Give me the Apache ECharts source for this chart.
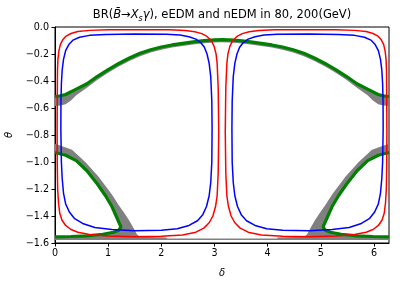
<!DOCTYPE html>
<html><head><meta charset="utf-8">
<script src="https://cdn.jsdelivr.net/npm/echarts@6/dist/echarts.min.js"></script>
<style>html,body{margin:0;padding:0;background:#fff}#c{width:400px;height:284px}</style>
</head><body><div id="c"></div>
<script>
// axis ticks
const xTicks = [0, 1, 2, 3, 4, 5, 6];
const yTicks = [-1.6, -1.4, -1.2, -1.0, -0.8, -0.6, -0.4, -0.2, 0.0];

// red contour, left loop  [delta, theta]
const redLeft = [[1.6,-0.02],[2.15,-0.021],[2.45,-0.026],[2.63,-0.035],[2.76,-0.049],[2.86,-0.07],[2.94,-0.1],[2.995,-0.145],[3.03,-0.2],[3.05,-0.27],[3.07,-0.45],[3.08,-0.78],[3.07,-1.08],[3.05,-1.25],[3.02,-1.33],[2.97,-1.40],[2.9,-1.45],[2.8,-1.49],[2.65,-1.52],[2.4,-1.54],[2.0,-1.55],[1.5,-1.553],[1.0,-1.548],[0.65,-1.537],[0.43,-1.52],[0.3,-1.5],[0.2,-1.47],[0.13,-1.43],[0.09,-1.38],[0.065,-1.3],[0.05,-1.2],[0.042,-1.0],[0.04,-0.78],[0.043,-0.5],[0.047,-0.32],[0.055,-0.24],[0.072,-0.18],[0.1,-0.13],[0.145,-0.095],[0.21,-0.067],[0.3,-0.048],[0.43,-0.034],[0.65,-0.025],[1.0,-0.021],[1.6,-0.02]];
// red contour, right loop
const redRight = [[4.683,-0.02],[4.133,-0.021],[3.833,-0.026],[3.653,-0.035],[3.523,-0.049],[3.423,-0.07],[3.343,-0.1],[3.288,-0.145],[3.253,-0.2],[3.233,-0.27],[3.213,-0.45],[3.203,-0.78],[3.213,-1.08],[3.233,-1.25],[3.263,-1.33],[3.313,-1.40],[3.383,-1.45],[3.483,-1.49],[3.633,-1.52],[3.883,-1.54],[4.283,-1.55],[4.783,-1.553],[5.283,-1.548],[5.633,-1.537],[5.853,-1.52],[5.983,-1.5],[6.083,-1.47],[6.153,-1.43],[6.193,-1.38],[6.218,-1.3],[6.233,-1.2],[6.241,-1.0],[6.243,-0.78],[6.24,-0.5],[6.236,-0.32],[6.228,-0.24],[6.211,-0.18],[6.183,-0.13],[6.138,-0.095],[6.073,-0.067],[5.983,-0.048],[5.853,-0.034],[5.633,-0.025],[5.283,-0.021],[4.683,-0.02]];
// blue contour, left loop
const blueLeft = [[1.5,-0.052],[2.1,-0.054],[2.35,-0.06],[2.52,-0.072],[2.65,-0.09],[2.74,-0.115],[2.81,-0.15],[2.86,-0.2],[2.9,-0.27],[2.93,-0.37],[2.95,-0.55],[2.955,-0.75],[2.95,-1.0],[2.93,-1.15],[2.9,-1.25],[2.85,-1.33],[2.78,-1.39],[2.68,-1.435],[2.52,-1.47],[2.3,-1.495],[2.0,-1.505],[1.5,-1.51],[1.07,-1.50],[0.75,-1.485],[0.52,-1.455],[0.37,-1.42],[0.27,-1.37],[0.2,-1.31],[0.16,-1.23],[0.135,-1.12],[0.12,-1.0],[0.11,-0.76],[0.112,-0.55],[0.12,-0.42],[0.135,-0.32],[0.16,-0.24],[0.2,-0.175],[0.26,-0.13],[0.34,-0.097],[0.46,-0.076],[0.65,-0.062],[0.95,-0.055],[1.5,-0.052]];
// blue contour, right loop
const blueRight = [[4.783,-0.052],[4.183,-0.054],[3.933,-0.06],[3.763,-0.072],[3.633,-0.09],[3.543,-0.115],[3.473,-0.15],[3.423,-0.2],[3.383,-0.27],[3.353,-0.37],[3.333,-0.55],[3.328,-0.75],[3.333,-1.0],[3.353,-1.15],[3.383,-1.25],[3.433,-1.33],[3.503,-1.39],[3.603,-1.435],[3.763,-1.47],[3.983,-1.495],[4.283,-1.505],[4.783,-1.51],[5.213,-1.50],[5.533,-1.485],[5.763,-1.455],[5.913,-1.42],[6.013,-1.37],[6.083,-1.31],[6.123,-1.23],[6.148,-1.12],[6.163,-1.0],[6.173,-0.76],[6.171,-0.55],[6.163,-0.42],[6.148,-0.32],[6.123,-0.24],[6.083,-0.175],[6.023,-0.13],[5.943,-0.097],[5.823,-0.076],[5.633,-0.062],[5.333,-0.055],[4.783,-0.052]];

// green allowed band (upper), full width
const greenUpper = [[0,-0.515],[0.1,-0.51],[0.2,-0.5],[0.4,-0.46],[0.6,-0.42],[0.8,-0.365],[1.0,-0.315],[1.2,-0.27],[1.4,-0.23],[1.6,-0.195],[1.8,-0.168],[2.0,-0.148],[2.2,-0.133],[2.4,-0.121],[2.6,-0.11],[2.8,-0.101],[3.0,-0.096],[3.14,-0.094],[3.28,-0.096],[3.48,-0.101],[3.68,-0.11],[3.88,-0.121],[4.08,-0.133],[4.28,-0.148],[4.48,-0.168],[4.68,-0.195],[4.88,-0.23],[5.08,-0.27],[5.28,-0.315],[5.48,-0.365],[5.68,-0.42],[5.88,-0.46],[6.08,-0.5],[6.18,-0.51],[6.283,-0.515]];
// gray band (upper), lower edge
const grayUpperEdge = [[0,-0.585],[0.1,-0.582],[0.2,-0.572],[0.3,-0.545],[0.4,-0.505],[0.6,-0.45],[0.8,-0.39],[1.0,-0.338],[1.2,-0.292],[1.4,-0.251],[1.6,-0.216],[1.8,-0.189],[2.0,-0.168],[2.2,-0.152],[2.4,-0.14],[2.6,-0.129],[2.8,-0.12],[3.0,-0.115],[3.14,-0.113],[3.28,-0.115],[3.48,-0.12],[3.68,-0.129],[3.88,-0.14],[4.08,-0.152],[4.28,-0.168],[4.48,-0.189],[4.68,-0.216],[4.88,-0.251],[5.08,-0.292],[5.28,-0.338],[5.48,-0.39],[5.68,-0.45],[5.88,-0.505],[5.98,-0.545],[6.08,-0.572],[6.18,-0.582],[6.283,-0.585]];

// green lower bands
const greenLowerL = [[0,-0.93],[0.2,-0.95],[0.4,-0.99],[0.6,-1.065],[0.8,-1.165],[0.95,-1.25],[1.07,-1.33],[1.15,-1.40],[1.21,-1.455],[1.24,-1.48],[1.2,-1.505],[1.1,-1.52],[0.9,-1.535],[0.6,-1.547],[0.3,-1.552],[0,-1.555]];
const greenLowerR = [[6.283,-0.93],[6.083,-0.95],[5.883,-0.99],[5.683,-1.065],[5.483,-1.165],[5.333,-1.25],[5.213,-1.33],[5.133,-1.40],[5.073,-1.455],[5.043,-1.48],[5.083,-1.505],[5.183,-1.52],[5.383,-1.535],[5.683,-1.547],[5.983,-1.552],[6.283,-1.555]];
// gray lower bands, outer edge
const grayLowerEdgeL = [[0,-0.865],[0.15,-0.885],[0.32,-0.91],[0.57,-1.0],[0.82,-1.11],[1.07,-1.24],[1.2,-1.32],[1.29,-1.37],[1.39,-1.43],[1.48,-1.49],[1.54,-1.535],[1.6,-1.553],[2.1,-1.56],[2.1,-1.578],[0,-1.578]];
const grayLowerEdgeR = [[6.283,-0.865],[6.133,-0.885],[5.963,-0.91],[5.713,-1.0],[5.463,-1.11],[5.213,-1.24],[5.083,-1.32],[4.993,-1.37],[4.893,-1.43],[4.803,-1.49],[4.743,-1.535],[4.683,-1.553],[4.183,-1.56],[4.183,-1.578],[6.283,-1.578]];
// gray thin line along bottom
const grayBottom = [[0,-1.572],[6.283,-1.572]];

function poly(points, color) {
  return {
    type: 'custom', silent: true, clip: true, z: 1,
    data: [points[0]],
    renderItem: function (params, api) {
      return { type: 'polygon', shape: { points: points.map(p => api.coord(p)) }, style: { fill: color } };
    }
  };
}
function line(points, color, width, z) {
  return { type: 'line', data: points, showSymbol: false, symbol: 'none', clip: true, z: z,
    lineStyle: { color: color, width: width }, silent: true };
}

const FONT = 'DejaVu Sans';
const chart = echarts.init(document.getElementById('c'), null, { renderer: 'canvas' });
chart.setOption({
  animation: false,
  backgroundColor: '#fff',
  grid: { left: 55, right: 11, top: 27, bottom: 41, show: true, borderColor: '#000', borderWidth: 1,
    backgroundColor: 'transparent', containLabel: false, outerBoundsMode: 'none' },
  xAxis: {
    type: 'value', min: 0, max: 6.283, interval: 1,
    axisLine: { onZero: false, lineStyle: { color: '#000', width: 1 } },
    axisTick: { show: true, length: 3.5, customValues: xTicks, lineStyle: { color: '#000' } },
    axisLabel: { customValues: xTicks, color: '#000', fontSize: 9.6, fontFamily: FONT, margin: 5 },
    splitLine: { show: false },
    name: 'δ', nameLocation: 'middle', nameGap: 25,
    nameTextStyle: { fontStyle: 'italic', fontSize: 10, color: '#000', fontFamily: FONT }
  },
  yAxis: {
    type: 'value', min: -1.6, max: 0, interval: 0.2,
    axisLine: { onZero: false, lineStyle: { color: '#000', width: 1 } },
    axisTick: { show: true, length: 3.5, customValues: yTicks, lineStyle: { color: '#000' } },
    axisLabel: { customValues: yTicks, color: '#000', fontSize: 9.6, fontFamily: FONT, margin: 6,
      formatter: v => (Math.abs(v) < 1e-9 ? '0.0' : v.toFixed(1).replace('-', '\u2212')) },
    splitLine: { show: false },
    name: 'θ', nameLocation: 'middle', nameGap: 40,
    nameTextStyle: { fontStyle: 'italic', fontSize: 10, color: '#000', fontFamily: FONT }
  },
  graphic: [{
    type: 'text', x: 222, y: 15, silent: true,
    style: {
      text: 'BR({it|B\u0304}\u2192{it|X}{sub|s}{it|γ}), eEDM and nEDM in 80, 200(GeV)',
      align: 'center', verticalAlign: 'middle', fill: '#000',
      fontSize: 11.5, fontFamily: FONT,
      rich: {
        it: { fontStyle: 'italic', fontSize: 11.5, fontFamily: FONT, fill: '#000' },
        sub: { fontStyle: 'italic', fontSize: 8, fontFamily: FONT, fill: '#000', padding: [7, 0, 0, 0] }
      }
    }
  }],
  series: [
    poly(grayUpperEdge.concat(greenUpper.slice().reverse()), '#808080'),
    poly(grayLowerEdgeL.concat(greenLowerL.slice().reverse()), '#808080'),
    poly(grayLowerEdgeR.concat(greenLowerR.slice().reverse()), '#808080'),
    line(grayBottom, '#808080', 1.5, 2),
    line(greenUpper, '#008000', 3.2, 3),
    line(greenLowerL, '#008000', 3.2, 3),
    line(greenLowerR, '#008000', 3.2, 3),
    line(redLeft, '#ff0000', 1.5, 4),
    line(redRight, '#ff0000', 1.5, 4),
    line(blueLeft, '#0000ff', 1.5, 4),
    line(blueRight, '#0000ff', 1.5, 4)
  ]
});
</script></body></html>
